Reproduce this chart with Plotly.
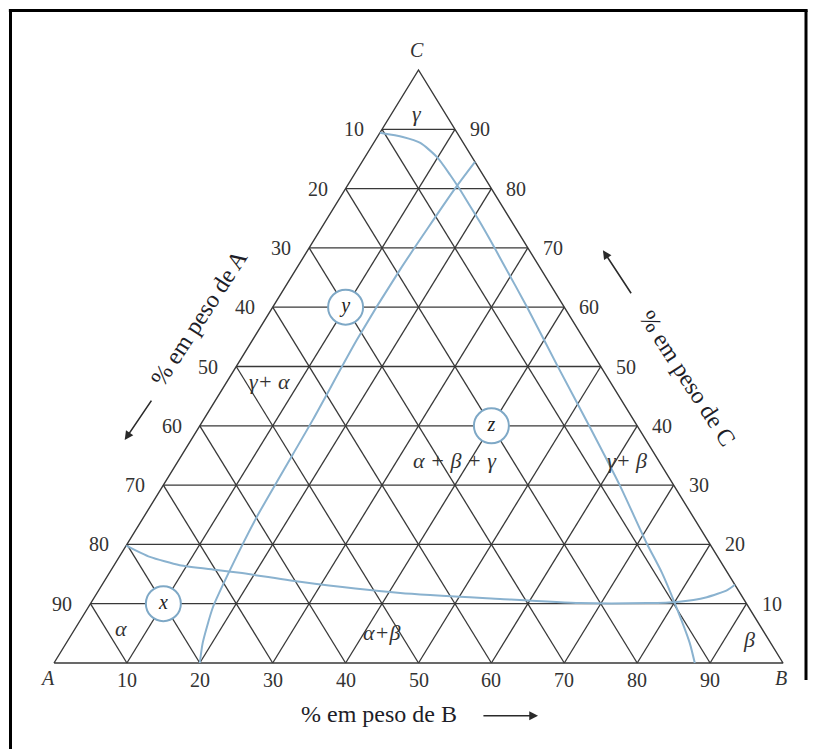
import plotly.graph_objects as go

# ---------------------------------------------------------------
# Ternary phase diagram A-B-C (wt %), drawn on a plane where
#   X = %B + %C/2 ,  Y = %C
# ---------------------------------------------------------------
grid_levels = [10, 20, 30, 40, 50, 60, 70, 80, 90]
tick_text = ["10", "20", "30", "40", "50", "60", "70", "80", "90"]

# phase boundaries, given as (%B, %C) pairs
bound1_B = [0.0, 3.5, 6.4, 9.9, 13.2, 15.8, 18.5, 21.2, 24.1, 27.8, 34.9, 44.2, 53.6,
            62.6, 71.2, 75.8, 80.1, 85.5, 87.9]
bound1_C = [89.4, 88.7, 87.7, 85.3, 82.3, 79.8, 77.1, 74.4, 71.4, 67.5, 60.0, 49.9, 39.8,
            30.0, 20.2, 15.2, 10.1, 3.4, 0.0]

bound2_B = [15.5, 15.0, 14.3, 14.3, 15.0, 15.5, 16.3, 17.1, 18.7, 20.0]
bound2_C = [84.5, 79.9, 66.3, 54.5, 41.0, 24.6, 15.7, 9.4, 3.4, 0.0]

bound3_B = [0.0, 4.2, 9.0, 14.5, 17.9, 26.9, 41.6, 55.8, 67.1, 76.3, 80.3, 84.0, 86.2, 86.8]
bound3_C = [19.8, 17.9, 16.5, 15.7, 15.2, 13.7, 11.8, 10.8, 10.1, 10.1, 10.3, 11.1, 12.3, 13.2]

# marked alloys x, y, z
alloy_names = ["x", "y", "z"]
alloy_B = [10, 10, 40]
alloy_C = [10, 60, 40]

# phase-field labels: (text, %B, %C)
field_names = ["γ", "γ+ α", "α + β + γ", "γ+ β", "α", "α+β", "β"]
field_B = [3.4, 5.9, 38.0, 61.6, 6.3, 42.3, 93.4]
field_C = [92.7, 47.4, 34.1, 34.1, 5.9, 5.2, 3.9]

vertex_names = ["A", "B", "C"]

GRID = "#383838"
BLUE = "#8ab2cf"
RING = "#7ea8c6"
SERIF = "Liberation Serif"


def xy(b, c):
    return b + c / 2.0, c


def seg_trace(pairs):
    xs, ys = [], []
    for (b0, c0), (b1, c1) in pairs:
        x0, y0 = xy(b0, c0)
        x1, y1 = xy(b1, c1)
        xs += [x0, x1, None]
        ys += [y0, y1, None]
    return xs, ys


fig = go.Figure()

# grid lines of constant C, A and B
pairs = []
for v in grid_levels:
    pairs.append(((0, v), (100 - v, v)))          # constant C
    pairs.append(((0, 100 - v), (100 - v, 0)))    # constant A
    pairs.append(((v, 0), (v, 100 - v)))          # constant B
gx, gy = seg_trace(pairs)
fig.add_trace(go.Scatter(x=gx, y=gy, mode="lines", line=dict(color=GRID, width=1.3),
                         hoverinfo="skip", showlegend=False))

# triangle outline
tx, ty = zip(*[xy(b, c) for b, c in [(0, 0), (100, 0), (0, 100), (0, 0)]])
fig.add_trace(go.Scatter(x=list(tx), y=list(ty), mode="lines",
                         line=dict(color=GRID, width=1.4), hoverinfo="skip",
                         showlegend=False))

# phase boundaries
for bb, cc in [(bound1_B, bound1_C), (bound2_B, bound2_C), (bound3_B, bound3_C)]:
    px, py = zip(*[xy(b, c) for b, c in zip(bb, cc)])
    fig.add_trace(go.Scatter(x=list(px), y=list(py), mode="lines",
                             line=dict(color=BLUE, width=2, shape="spline", smoothing=0.6),
                             hoverinfo="skip", showlegend=False))

# alloys
ax_, ay_ = zip(*[xy(b, c) for b, c in zip(alloy_B, alloy_C)])
fig.add_trace(go.Scatter(
    x=list(ax_), y=list(ay_), mode="markers+text", text=alloy_names,
    textposition="middle center",
    textfont=dict(family=SERIF, size=20, color="#222", style="italic"),
    marker=dict(size=35, color="white", line=dict(color=RING, width=2)),
    hoverinfo="skip", showlegend=False))

annotations = []
tick_font = dict(family=SERIF, size=20, color="#333")

# left edge: % A   (point on AC edge with B = 0, C = 100 - A)
for a, t in zip(grid_levels, tick_text):
    x, y = xy(0, 100 - a)
    annotations.append(dict(x=x, y=y, text=t, showarrow=False, xanchor="right",
                            xshift=-16, font=tick_font))
# right edge: % C   (point on BC edge)
for c, t in zip(grid_levels, tick_text):
    x, y = xy(100 - c, c)
    annotations.append(dict(x=x, y=y, text=t, showarrow=False, xanchor="left",
                            xshift=13, font=tick_font))
# bottom edge: % B
for b, t in zip(grid_levels, tick_text):
    x, y = xy(b, 0)
    annotations.append(dict(x=x, y=y, text=t, showarrow=False, yanchor="top",
                            yshift=-4, font=tick_font))

# vertex labels
vfont = dict(family=SERIF, size=20, color="#333")
for name, (b, c), xs_, ys_ in zip(vertex_names, [(0, 0), (100, 0), (0, 100)],
                                  [-7, -2, -2], [-15, -15, 20]):
    x, y = xy(b, c)
    annotations.append(dict(x=x, y=y, text="<i>%s</i>" % name, showarrow=False,
                            xshift=xs_, yshift=ys_, font=vfont))

# phase fields
ffont = dict(family=SERIF, size=22, color="#333")
for name, b, c in zip(field_names, field_B, field_C):
    x, y = xy(b, c)
    annotations.append(dict(x=x, y=y, text="<i>%s</i>" % name, showarrow=False,
                            font=ffont))

# axis titles
title_font = dict(family=SERIF, size=24, color="#1e1e28")
annotations.append(dict(x=44.6, y=-8.6, text="% em peso de B", showarrow=False,
                        font=title_font))
annotations.append(dict(x=19.9, y=58.2, text="% em peso de A", showarrow=False,
                        textangle=-57, font=title_font))
annotations.append(dict(x=86.9, y=48.1, text="% em peso de C", showarrow=False,
                        textangle=57, font=title_font))

# direction arrows
arrow = dict(showarrow=True, text="", arrowhead=2, arrowsize=1.1, arrowwidth=1.6,
             arrowcolor="#2a2a2a", axref="x", ayref="y")
annotations.append(dict(x=66.4, y=-8.9, ax=58.7, ay=-8.9, **arrow))
annotations.append(dict(x=9.7, y=37.6, ax=13.5, ay=44.5, **arrow))
annotations.append(dict(x=75.3, y=69.6, ax=79.3, ay=62.1, **arrow))

# frame around the figure
frame = dict(type="line", xref="paper", yref="paper",
             line=dict(color="black", width=3))
fx0, fx1, ftop = 10.5 / 816, 806 / 816, 1 - 10.5 / 749

fig.update_layout(
    width=816, height=749,
    margin=dict(l=0, r=0, t=0, b=0),
    paper_bgcolor="white", plot_bgcolor="white",
    xaxis=dict(range=[-7.407, 104.527], visible=False, fixedrange=True),
    yaxis=dict(range=[-14.503, 111.804], visible=False, fixedrange=True),
    annotations=annotations,
    shapes=[
        dict(frame, x0=fx0 - 0.002, x1=fx1 + 0.002, y0=ftop, y1=ftop),
        dict(frame, x0=fx0, x1=fx0, y0=-0.01, y1=ftop),
        dict(frame, x0=fx1, x1=fx1, y0=1 - 680 / 749, y1=ftop),
    ],
)

fig.write_html("out.html")
